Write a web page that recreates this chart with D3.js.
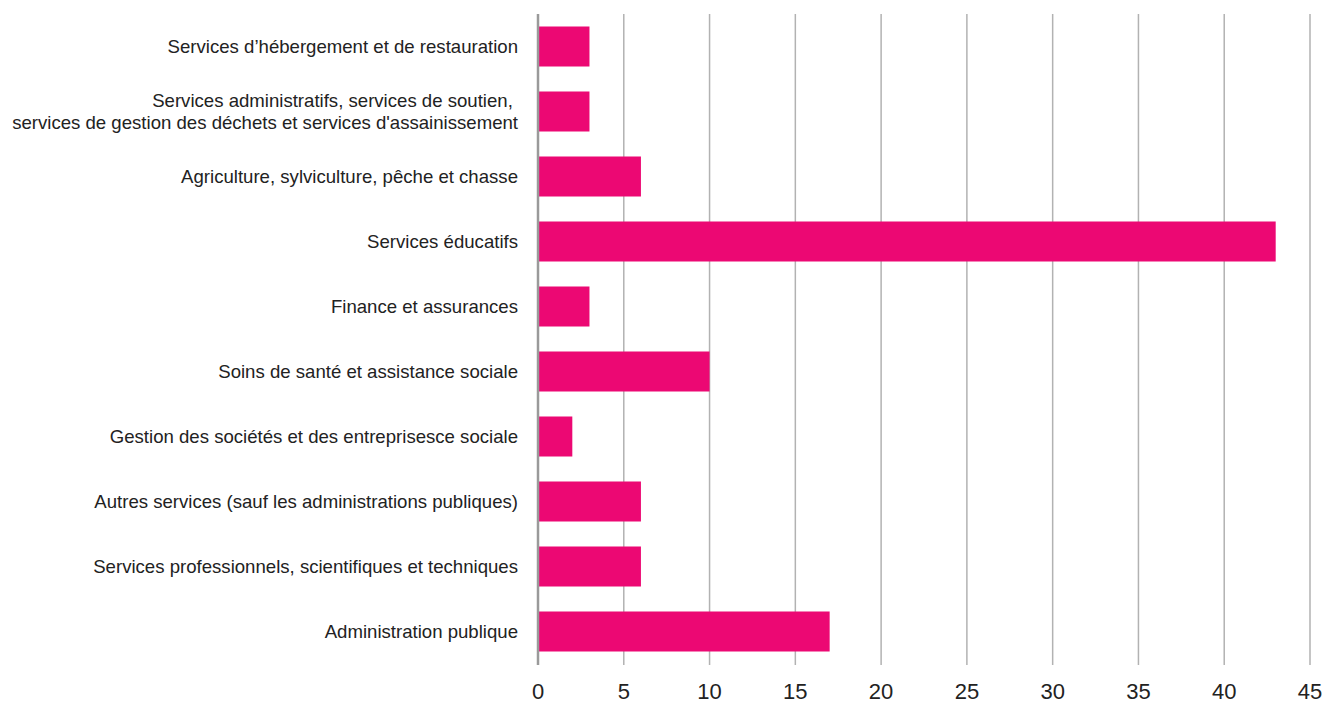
<!DOCTYPE html>
<html><head><meta charset="utf-8">
<script src="https://cdn.jsdelivr.net/npm/d3@7"></script>
<style>body{margin:0;background:#fff;}svg{display:block;font-family:"Liberation Sans",Arial,Helvetica,sans-serif;}</style>
</head><body>
<svg id="c" width="1324" height="704"></svg>
<script>
const categories = [
  ["Services d\u2019hébergement et de restauration"],
  ["Services administratifs, services de soutien,\u00a0", "services de gestion des déchets et services d'assainissement"],
  ["Agriculture, sylviculture, pêche et chasse"],
  ["Services éducatifs"],
  ["Finance et assurances"],
  ["Soins de santé et assistance sociale"],
  ["Gestion des sociétés et des entreprisesce sociale"],
  ["Autres services (sauf les administrations publiques)"],
  ["Services professionnels, scientifiques et techniques"],
  ["Administration publique"]
];
const values = [3, 3, 6, 43, 3, 10, 2, 6, 6, 17];
const ticks = [0, 5, 10, 15, 20, 25, 30, 35, 40, 45];

const svg = d3.select("#c");
const x = d3.scaleLinear().domain([0, 45]).range([538, 1310]);
const y = d3.scaleBand().domain(d3.range(categories.length)).range([14, 664])
  .paddingInner(25/65).paddingOuter(12.5/65);

// gridlines
svg.append("g").selectAll("line").data(ticks.slice(1)).join("line")
  .attr("x1", d => x(d)).attr("x2", d => x(d)).attr("y1", 14).attr("y2", 665)
  .attr("stroke", "#b2b2b2").attr("stroke-width", 1.5);

// bars
svg.append("g").selectAll("rect").data(values).join("rect")
  .attr("x", x(0)).attr("y", (d, i) => y(i))
  .attr("width", d => x(d) - x(0)).attr("height", y.bandwidth())
  .attr("fill", "#ec0873");

// zero axis line
svg.append("line").attr("x1", x(0)).attr("x2", x(0)).attr("y1", 14).attr("y2", 665)
  .attr("stroke", "#9a9a9a").attr("stroke-width", 2.5);

// tick labels
svg.append("g").selectAll("text").data(ticks).join("text")
  .attr("x", d => x(d)).attr("y", 699)
  .attr("text-anchor", "middle").attr("font-size", 22).attr("fill", "#222")
  .text(d => d);

// category labels
const lg = svg.append("g");
categories.forEach((lines, i) => {
  const cy = y(i) + y.bandwidth() / 2;
  const lh = 22;
  const t = lg.append("text").attr("text-anchor", "end").attr("font-size", 18.6).attr("fill", "#222");
  lines.forEach((ln, j) => {
    t.append("tspan").attr("x", 518)
      .attr("y", cy + (j - (lines.length - 1) / 2) * lh + 6.5)
      .text(ln);
  });
});
</script>
</body></html>
